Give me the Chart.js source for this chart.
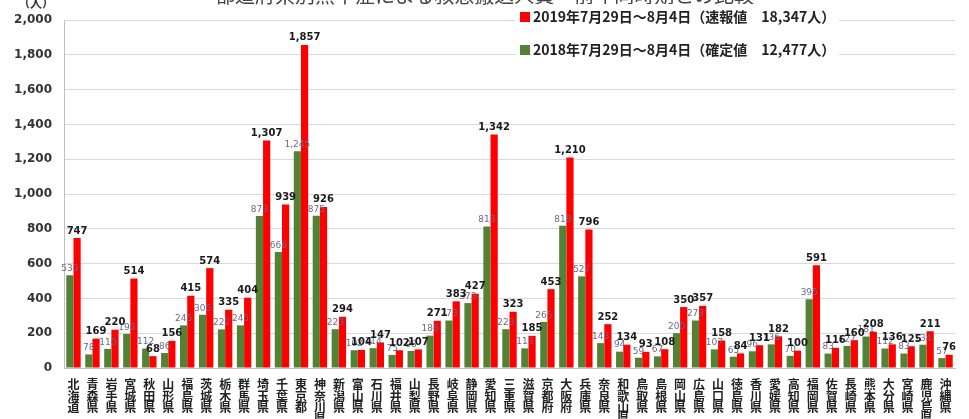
<!DOCTYPE html>
<html>
<head>
<meta charset="utf-8">
<script src="https://cdn.jsdelivr.net/npm/chart.js@4.4.1/dist/chart.umd.min.js"></script>
<style>
  body { margin: 0; background: #fff; overflow: hidden; }
  #wrap { position: relative; width: 969px; height: 419px; overflow: hidden; }
  #title { position: absolute; left: 0; width: 969px; top: -20px; text-align: center;
           font: 20px "Noto Sans CJK JP", sans-serif; color: #444; }
  #unit { position: absolute; left: 18px; top: -6px; font: bold 12px "Noto Sans CJK JP", sans-serif; color: #333; }
  #legend { position: absolute; left: 516px; top: 4px; font: bold 14px "Noto Sans CJK JP", sans-serif; color: #222; }
  #legend div { background: #fff; padding: 0 4px; height: 24px; line-height: 24px; margin-bottom: 9px; white-space: nowrap; }
  #legend span { display: inline-block; width: 10px; height: 10px; margin-right: 3px; }
</style>
</head>
<body>
<div id="wrap">
  <canvas id="myChart" width="969" height="419"></canvas>
  <div id="title">都道府県別熱中症による救急搬送人員　前年同時期との比較</div>
  <div id="unit">（人）</div>
  <div id="legend">
    <div><span style="background:#ff0000"></span>2019年7月29日～8月4日（速報値　18,347人）</div>
    <div><span style="background:#548235"></span>2018年7月29日～8月4日（確定値　12,477人）</div>
  </div>
</div>

<script>
var prefectures = ["北海道", "青森県", "岩手県", "宮城県", "秋田県", "山形県", "福島県", "茨城県", "栃木県", "群馬県",
  "埼玉県", "千葉県", "東京都", "神奈川県", "新潟県", "富山県", "石川県", "福井県", "山梨県", "長野県",
  "岐阜県", "静岡県", "愛知県", "三重県", "滋賀県", "京都府", "大阪府", "兵庫県", "奈良県", "和歌山県",
  "鳥取県", "島根県", "岡山県", "広島県", "山口県", "徳島県", "香川県", "愛媛県", "高知県", "福岡県",
  "佐賀県", "長崎県", "熊本県", "大分県", "宮崎県", "鹿児島県", "沖縄県"];

// 2019年 速報値
var values2019 = [747, 169, 220, 514, 68, 156, 415, 574, 335, 404,
  1307, 939, 1857, 926, 294, 104, 147, 102, 107, 271,
  383, 427, 1342, 323, 185, 453, 1210, 796, 252, 134,
  93, 108, 350, 357, 158, 84, 131, 182, 100, 591,
  116, 160, 208, 136, 125, 211, 76];

// 2018年 確定値
var values2018 = [533, 78, 110, 196, 112, 86, 245, 306, 222, 245,
  873, 666, 1245, 875, 223, 102, 114, 75, 98, 186,
  273, 373, 813, 223, 113, 265, 818, 527, 143, 94,
  59, 67, 200, 273, 107, 65, 96, 136, 70, 395,
  83, 127, 181, 112, 83, 134, 57];

var yTicks = [0, 200, 400, 600, 800, 1000, 1200, 1400, 1600, 1800, 2000];

// 棒の上に数値を描く
var valueLabels = {
  id: 'valueLabels',
  afterDatasetsDraw: function (chart) {
    var ctx = chart.ctx;
    chart.data.datasets.forEach(function (ds, i) {
      var meta = chart.getDatasetMeta(i);
      ctx.save();
      ctx.font = ds.labelFont;
      ctx.fillStyle = ds.labelColor;
      ctx.textAlign = 'center';
      ctx.textBaseline = 'bottom';
      meta.data.forEach(function (bar, j) {
        ctx.fillText(ds.data[j].toLocaleString('en-US'), bar.x, bar.y - 2);
      });
      ctx.restore();
    });
  }
};

new Chart("myChart", {
  type: "bar",
  data: {
    labels: prefectures.map(function (p) { return p.split(''); }),
    datasets: [{
      label: "2018年7月29日～8月4日（確定値）",
      data: values2018,
      backgroundColor: "#548235",
      labelFont: '9px "DejaVu Sans"',
      labelColor: '#6a6a85'
    }, {
      label: "2019年7月29日～8月4日（速報値）",
      data: values2019,
      backgroundColor: "#ff0000",
      labelFont: 'bold 10px "DejaVu Sans"',
      labelColor: '#1a1a1a'
    }]
  },
  options: {
    responsive: false,
    devicePixelRatio: 1,
    animation: false,
    categoryPercentage: 0.76,
    barPercentage: 1.0,
    layout: { padding: { top: 20, right: 14, left: 0, bottom: 0 } },
    plugins: {
      legend: { display: false },
      title: { display: false },
      tooltip: { enabled: false }
    },
    scales: {
      x: {
        grid: { display: false },
        border: { color: '#bfbfbf' },
        ticks: {
          autoSkip: false,
          maxRotation: 0,
          padding: 3,
          color: '#222',
          font: { family: '"Noto Sans CJK JP"', size: 12, weight: 'bold', lineHeight: 0.95 }
        },
        afterFit: function (s) { s.height = 51; }
      },
      y: {
        min: 0,
        max: 2000,
        afterBuildTicks: function (s) { s.ticks = yTicks.map(function (v) { return { value: v }; }); },
        grid: { color: '#d9d9d9', drawTicks: false },
        border: { color: '#bfbfbf' },
        ticks: {
          padding: 12,
          color: '#333',
          font: { family: '"DejaVu Sans"', size: 12, weight: 'bold' },
          callback: function (v) { return v.toLocaleString('en-US'); }
        },
        afterFit: function (s) { s.width = 64; }
      }
    }
  },
  plugins: [valueLabels]
});
</script>
</body>
</html>
